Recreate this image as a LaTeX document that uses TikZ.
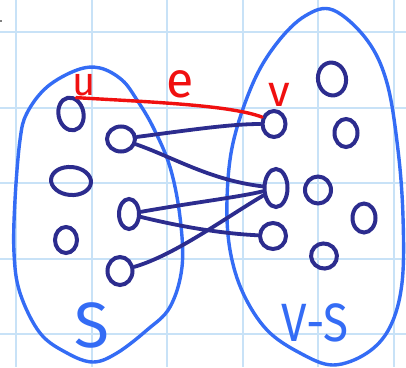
\documentclass[tikz,border=0pt]{standalone}
\usepackage{fontspec}
\setmainfont{Fira Sans}
\usetikzlibrary{shapes.geometric}
\definecolor{gridblue}{RGB}{200,226,247}
\definecolor{setblue}{RGB}{52,108,245}
\definecolor{vertnavy}{RGB}{44,44,142}
\definecolor{cutred}{RGB}{240,16,16}
\tikzset{
  gridline/.style={draw=gridblue, line width=2pt},
  setblob/.style={draw=setblue, line width=3.4pt, line join=round},
  vert/.style={ellipse, draw=vertnavy, line width=4pt, inner sep=0pt},
  link/.style={draw=vertnavy, line width=3.8pt, line cap=round},
  cutedge/.style={draw=cutred, line width=3.4pt, line cap=round},
  redlabel/.style={text=cutred, inner sep=0pt},
  setlabel/.style={text=setblue, inner sep=0pt},
}
\begin{document}
\begin{tikzpicture}[x=1pt, y=-1pt]
  \useasboundingbox (0,0) rectangle (406,367);
  \fill[white] (0,0) rectangle (406,367);

  % squared paper
  \foreach \gx in {16,91.6,167.2,242.8,318.4,394}
    \draw[gridline] (\gx,0) -- (\gx,367);
  \foreach \gy in {32,107.5,183,258.5,334}
    \draw[gridline] (0,\gy) -- (406,\gy);
  \draw[gray, line width=1.5pt] (0,21) -- (2,21);

  % the two sides of the cut
  \draw[setblob] plot[smooth cycle, tension=0.6] coordinates {
    (100,68) (77,70) (47,87) (27,113) (20,140) (15,200) (14,253) (20,293)
    (40,333) (67,353) (93,362) (117,353) (147,330) (170,307) (182,267)
    (180,217) (170,167) (153,127) (137,100) (122,80)};
  \draw[setblob] plot[smooth cycle, tension=0.6] coordinates {
    (305,16) (333,10) (367,40) (387,83) (398,150) (403,217) (402,283)
    (390,327) (367,353) (333,365) (300,353) (267,330) (243,293) (230,250)
    (227,200) (233,143) (253,83) (277,43)};

  % vertices in S
  \node[vert, minimum width=25pt, minimum height=33pt, rotate=12] (u) at (71,114) {};
  \node[vert, minimum width=28pt, minimum height=25pt] (s1) at (121,139) {};
  \node[vert, minimum width=40pt, minimum height=28pt, rotate=-5] (s2) at (71,181) {};
  \node[vert, minimum width=22pt, minimum height=26pt] (s3) at (66,240) {};
  \node[vert, minimum width=20pt, minimum height=30pt] (s4) at (129,214) {};
  \node[vert, minimum width=25pt, minimum height=28pt] (s5) at (120,271) {};

  % vertices in V-S
  \node[vert, minimum width=23pt, minimum height=26pt] (v) at (274,124) {};
  \node[vert, minimum width=23pt, minimum height=38pt] (t1) at (276,188) {};
  \node[vert, minimum width=26pt, minimum height=26pt] (t2) at (273,236) {};
  \node[vert, minimum width=28pt, minimum height=33pt, rotate=10] (t3) at (332,79) {};
  \node[vert, minimum width=23pt, minimum height=28pt] (t4) at (346,133) {};
  \node[vert, minimum width=26pt, minimum height=27pt] (t5) at (318,190) {};
  \node[vert, minimum width=23pt, minimum height=29pt] (t6) at (364,218) {};
  \node[vert, minimum width=26pt, minimum height=25pt, rotate=-20] (t7) at (324,256) {};

  % edges crossing the cut
  \draw[link] (s1) .. controls (190,130) and (230,124) .. (v);
  \draw[link] (s1) .. controls (175,158) and (210,180) .. (t1);
  \draw[link] (s4) .. controls (190,203) and (240,197) .. (t1);
  \draw[link] (s4) .. controls (190,229) and (230,234) .. (t2);
  \draw[link] (s5) .. controls (175,255) and (225,218) .. (t1);

  % the edge e = uv
  \draw[cutedge] (u.60) .. controls (150,102) and (230,105) .. (v.150);

  % labels
  \node[redlabel, font=\fontsize{40}{40}\selectfont] (lu) at (84,85) {u};
  \node[redlabel, font=\fontsize{50}{50}\selectfont] (le) at (180,84) {e};
  \node[redlabel, font=\fontsize{44}{44}\selectfont] (lv) at (279,95) {v};
  \node[setlabel, font=\fontsize{64}{64}\selectfont] (lS) at (92,325) {S};
  \node[setlabel, font=\fontsize{54}{54}\selectfont, xscale=0.85] (lVS) at (315,323) {V-S};
\end{tikzpicture}
\end{document}
